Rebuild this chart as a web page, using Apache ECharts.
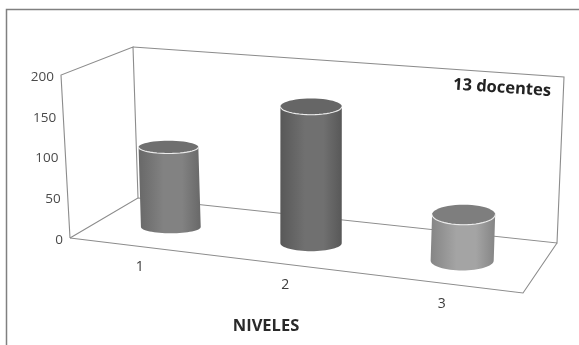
<!DOCTYPE html>
<html>
<head>
<meta charset="utf-8">
<style>html,body{margin:0;padding:0;background:#fff}#chart{width:579px;height:345px}</style>
<script src="https://cdn.jsdelivr.net/npm/echarts@6/dist/echarts.min.js"></script>
</head>
<body>
<div id="chart"></div>
<script>
const categories = ['1', '2', '3'];
const docentes = [100, 166, 54];
const yTicks = [0, 50, 100, 150, 200];
const barGrays = [
  { edge: '#686868', light: '#828282', top: '#6f6f6f' },
  { edge: '#585858', light: '#707070', top: '#666666' },
  { edge: '#858585', light: '#a4a4a4', top: '#7e7e7e' }
];

// Corners of the 3D box on the page: floor, plus the upward vector at each floor corner.
const floor = { fl: [70, 238], fr: [523, 293], bl: [138, 198], br: [557, 243] };
const rise = { fl: [-9, -163], fr: [9, -178], bl: [-5, -151], br: [7, -166] };

function mix(a, b, t) { return [a[0] + (b[0] - a[0]) * t, a[1] + (b[1] - a[1]) * t]; }

// u: along the categories, w: depth (0 front, 1 back), v: height (0..1)
function project(u, w, v) {
  const base = mix(mix(floor.fl, floor.fr, u), mix(floor.bl, floor.br, u), w);
  const up = mix(mix(rise.fl, rise.fr, u), mix(rise.bl, rise.br, u), w);
  return [base[0] + up[0] * v, base[1] + up[1] * v];
}

// Foreshortening along the category direction.
function warp(u) { return u - 0.025 * Math.sin(Math.PI * u); }

function gridFractions(api, params, cat, val) {
  const p = api.coord([cat, val]);
  const cs = params.coordSys;
  return { u: warp((p[0] - cs.x) / cs.width), v: (cs.y + cs.height - p[1]) / cs.height };
}

function arc(cx, cy, rx, ry, from, to, n) {
  const pts = [];
  for (let i = 0; i <= n; i++) {
    const a = from + (to - from) * i / n;
    pts.push([cx + rx * Math.cos(a), cy + ry * Math.sin(a)]);
  }
  return pts;
}

function renderBoxFrame() {
  const lineStyle = { stroke: '#8c8c8c', lineWidth: 1.1, fill: null };
  const outlines = [
    [project(0, 0, 0), project(0, 0, 1), project(0, 1, 1), project(0, 1, 0), project(0, 0, 0)],
    [project(0, 1, 1), project(1, 1, 1), project(1, 1, 0), project(0, 1, 0)],
    [project(0, 0, 0), project(1, 0, 0), project(1, 1, 0)]
  ];
  return {
    type: 'group',
    children: outlines.map(points => ({ type: 'polyline', shape: { points }, style: lineStyle }))
  };
}

function renderCylinder(params, api) {
  const i = api.value(0);
  const f = gridFractions(api, params, i, api.value(1));
  const b = project(f.u, 0.47, 0);
  const t = project(f.u, 0.47, f.v);
  b[0] += 1.5;
  t[0] += 1.5;
  const rx = 29.5 + 2.5 * f.u;
  const ry = 5.5 + 5.5 * f.u;
  const g = barGrays[i];
  const body = arc(t[0], t[1], rx, ry, Math.PI, 0, 24)
    .concat(arc(b[0], b[1], rx, ry, 0, Math.PI, 32));
  return {
    type: 'group',
    children: [
      {
        type: 'polygon',
        shape: { points: body },
        style: {
          fill: new echarts.graphic.LinearGradient(0, 0, 1, 0, [
            { offset: 0, color: g.edge },
            { offset: 0.4, color: g.light },
            { offset: 0.7, color: g.light },
            { offset: 1, color: g.edge }
          ])
        }
      },
      {
        type: 'polygon',
        shape: { points: arc(t[0], t[1], rx, ry, 0, Math.PI * 2, 48) },
        style: { fill: g.top }
      },
      {
        type: 'polyline',
        shape: { points: arc(t[0], t[1], rx, ry, 0, Math.PI, 24) },
        style: { stroke: '#ececec', lineWidth: 1.1, fill: null }
      }
    ]
  };
}

function renderCategoryLabel(params, api) {
  const i = api.value(0);
  const f = gridFractions(api, params, i, 0);
  const p = project(f.u, 0, 0);
  return {
    type: 'text',
    x: p[0],
    y: p[1] + 20.5,
    style: {
      text: categories[i], align: 'center', verticalAlign: 'middle',
      font: '14px "Open Sans"', fill: '#3c3c3c'
    }
  };
}

function renderValueLabel(params, api) {
  const f = gridFractions(api, params, 0, api.value(1));
  const p = project(0, 0, f.v);
  return {
    type: 'text',
    x: p[0] - 7,
    y: p[1] + 2,
    style: {
      text: String(api.value(1)), align: 'right', verticalAlign: 'middle',
      font: '13.5px "Open Sans"', fill: '#4a4a4a'
    }
  };
}

const chart = echarts.init(document.getElementById('chart'), null, { renderer: 'canvas' });
chart.setOption({
  animation: false,
  backgroundColor: '#ffffff',
  grid: { left: 70, top: 75, width: 453, height: 163 },
  xAxis: { type: 'category', data: categories, show: false },
  yAxis: { type: 'value', min: 0, max: 200, interval: 50, show: false },
  graphic: [
    {
      type: 'polyline',
      silent: true,
      shape: { points: [[6.5, 345], [6.5, 9.5], [579, 9.5]] },
      style: { stroke: '#808080', lineWidth: 1.5, fill: null }
    },
    {
      type: 'text',
      x: 502, y: 88, rotation: -0.066,
      style: {
        text: '13 docentes', align: 'center', verticalAlign: 'middle',
        font: 'bold 16.5px "Open Sans"', fill: '#222222'
      }
    },
    {
      type: 'text',
      x: 266, y: 326,
      style: {
        text: 'NIVELES', align: 'center', verticalAlign: 'middle',
        font: 'bold 16.5px "Open Sans"', fill: '#2a2a2a'
      }
    }
  ],
  series: [
    { type: 'custom', name: 'caja', renderItem: renderBoxFrame, data: [[0, 0]], silent: true, z: 1 },
    { type: 'custom', name: 'niveles', renderItem: renderCylinder, data: docentes.map((v, i) => [i, v]), silent: true, z: 2 },
    { type: 'custom', name: 'categorias', renderItem: renderCategoryLabel, data: categories.map((c, i) => [i, 0]), silent: true, z: 3 },
    { type: 'custom', name: 'escala', renderItem: renderValueLabel, data: yTicks.map(t => [0, t]), silent: true, z: 3 }
  ]
});
</script>
</body>
</html>
